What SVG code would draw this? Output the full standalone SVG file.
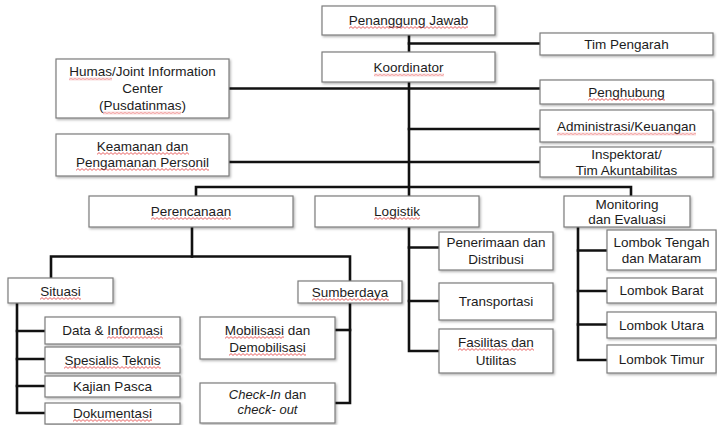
<svg xmlns="http://www.w3.org/2000/svg" width="717" height="425" viewBox="0 0 717 425">
  <style>
    .bx { fill: #ffffff; stroke: #7c7c7c; stroke-width: 1.2; filter: url(#ds); }
    .t { font-family: "Liberation Sans", Arial, sans-serif; font-size: 13.5px; fill: #1c1c1c; text-anchor: middle; }
    .it { font-style: italic; }
    .ln { fill: none; stroke: #111111; stroke-width: 2.6; stroke-linejoin: miter; stroke-linecap: square; }
    .sp { fill: url(#wave); }
  </style>
  <defs>
    <filter id="ds" x="-5%" y="-10%" width="115%" height="130%">
      <feDropShadow dx="1.2" dy="1.4" stdDeviation="0.8" flood-color="#000000" flood-opacity="0.3"/>
    </filter>
    <!-- red wavy spell-check underline -->
    <pattern id="wave" patternUnits="userSpaceOnUse" x="0" y="0" width="4" height="3">
      <path d="M0,2.4 L2,0.6 L4,2.4" fill="none" stroke="#e23a3a" stroke-width="0.8"/>
    </pattern>
  </defs>
  <rect width="717" height="425" fill="#ffffff"/>

  <!-- connectors -->
  <g id="connectors">
    <path class="ln" d="M409,35 V52"/>
    <path class="ln" d="M409,43.5 H540"/>
    <path class="ln" d="M409,82 V196"/>
    <path class="ln" d="M229,88.5 H540"/>
    <path class="ln" d="M409,129 H540"/>
    <path class="ln" d="M229,162 H540"/>
    <path class="ln" d="M196,196 V187 H631 V196"/>
    <path class="ln" d="M192,227 V256.5"/>
    <path class="ln" d="M51,278 V256.5 H350 V281"/>
    <path class="ln" d="M17,303 V413 H45"/>
    <path class="ln" d="M17,331 H45 M17,359 H45 M17,386 H45"/>
    <path class="ln" d="M350,303 V403 H335"/>
    <path class="ln" d="M350,330 H335"/>
    <path class="ln" d="M409,227 V351 H439"/>
    <path class="ln" d="M409,247.5 H439 M409,301 H439"/>
    <path class="ln" d="M578,227 V360 H607"/>
    <path class="ln" d="M578,250.5 H607 M578,291 H607 M578,324.5 H607"/>
  </g>

  <!-- nodes -->
  <g id="penanggung-jawab">
    <rect class="bx" x="322" y="6" width="173" height="29"/>
    <text class="t" x="408.5" y="25">Penanggung Jawab</text>
  </g>
  <g id="tim-pengarah">
    <rect class="bx" x="540" y="33" width="173" height="22"/>
    <text class="t" x="626.5" y="48.5">Tim Pengarah</text>
  </g>
  <g id="koordinator">
    <rect class="bx" x="322" y="52" width="173" height="30"/>
    <text class="t" x="408.5" y="72">Koordinator</text>
  </g>
  <g id="humas">
    <rect class="bx" x="56" y="59" width="173" height="59"/>
    <text class="t" x="142.5" y="76">Humas/Joint Information</text>
    <text class="t" x="142.5" y="93">Center</text>
    <text class="t" x="142.5" y="110">(Pusdatinmas)</text>
  </g>
  <g id="penghubung">
    <rect class="bx" x="540" y="80" width="173" height="24"/>
    <text class="t" x="626.5" y="96.5">Penghubung</text>
  </g>
  <g id="administrasi">
    <rect class="bx" x="540" y="110" width="173" height="32"/>
    <text class="t" x="626.5" y="131">Administrasi/Keuangan</text>
  </g>
  <g id="inspektorat">
    <rect class="bx" x="540" y="147" width="173" height="30"/>
    <text class="t" x="626.5" y="159">Inspektorat/</text>
    <text class="t" x="626.5" y="175">Tim Akuntabilitas</text>
  </g>
  <g id="keamanan">
    <rect class="bx" x="56" y="134" width="173" height="42"/>
    <text class="t" x="142.5" y="151">Keamanan dan</text>
    <text class="t" x="142.5" y="167">Pengamanan Personil</text>
  </g>
  <g id="perencanaan">
    <rect class="bx" x="89" y="196" width="204" height="31"/>
    <text class="t" x="191" y="216">Perencanaan</text>
  </g>
  <g id="logistik">
    <rect class="bx" x="315" y="196" width="164" height="31"/>
    <text class="t" x="397" y="216">Logistik</text>
  </g>
  <g id="monitoring">
    <rect class="bx" x="564" y="196" width="126" height="31"/>
    <text class="t" x="627" y="209">Monitoring</text>
    <text class="t" x="627" y="224">dan Evaluasi</text>
  </g>
  <g id="situasi">
    <rect class="bx" x="8" y="278" width="105" height="25"/>
    <text class="t" x="60.5" y="295.5">Situasi</text>
  </g>
  <g id="sumberdaya">
    <rect class="bx" x="298" y="281" width="104" height="22"/>
    <text class="t" x="350" y="296.5">Sumberdaya</text>
  </g>
  <g id="data-informasi">
    <rect class="bx" x="45" y="317" width="135" height="27"/>
    <text class="t" x="112.5" y="335">Data &amp; Informasi</text>
  </g>
  <g id="spesialis-teknis">
    <rect class="bx" x="45" y="347" width="135" height="26"/>
    <text class="t" x="112.5" y="364.5">Spesialis Teknis</text>
  </g>
  <g id="kajian-pasca">
    <rect class="bx" x="45" y="376" width="135" height="21"/>
    <text class="t" x="112.5" y="391">Kajian Pasca</text>
  </g>
  <g id="dokumentasi">
    <rect class="bx" x="45" y="403" width="135" height="21"/>
    <text class="t" x="112.5" y="418">Dokumentasi</text>
  </g>
  <g id="mobilisasi">
    <rect class="bx" x="200" y="317" width="135" height="42"/>
    <text class="t" x="267.5" y="335">Mobilisasi dan</text>
    <text class="t" x="267.5" y="352">Demobilisasi</text>
  </g>
  <g id="check-in">
    <rect class="bx" x="200" y="383" width="135" height="40"/>
    <text class="t" x="267.5" y="399" style="font-size:13px"><tspan class="it">Check-In</tspan> dan</text>
    <text class="t it" x="267.5" y="414" style="font-size:13px">check- out</text>
  </g>
  <g id="penerimaan">
    <rect class="bx" x="439" y="232" width="114" height="38"/>
    <text class="t" x="496" y="247">Penerimaan dan</text>
    <text class="t" x="496" y="264">Distribusi</text>
  </g>
  <g id="transportasi">
    <rect class="bx" x="439" y="283" width="114" height="37"/>
    <text class="t" x="496" y="306">Transportasi</text>
  </g>
  <g id="fasilitas">
    <rect class="bx" x="439" y="329" width="114" height="44"/>
    <text class="t" x="496" y="347">Fasilitas dan</text>
    <text class="t" x="496" y="365">Utilitas</text>
  </g>
  <g id="lombok-tengah">
    <rect class="bx" x="607" y="230" width="109" height="40"/>
    <text class="t" x="661.5" y="247">Lombok Tengah</text>
    <text class="t" x="661.5" y="263">dan Mataram</text>
  </g>
  <g id="lombok-barat">
    <rect class="bx" x="607" y="278" width="109" height="25"/>
    <text class="t" x="661.5" y="295">Lombok Barat</text>
  </g>
  <g id="lombok-utara">
    <rect class="bx" x="607" y="312" width="109" height="26"/>
    <text class="t" x="661.5" y="329.5">Lombok Utara</text>
  </g>
  <g id="lombok-timur">
    <rect class="bx" x="607" y="345" width="109" height="28"/>
    <text class="t" x="661.5" y="363.5">Lombok Timur</text>
  </g>

  <!-- spell-check underlines -->
  <g id="spelling">
    <rect class="sp" width="119" height="3" transform="translate(349,26)"/>
    <rect class="sp" width="70" height="3" transform="translate(374,73.5)"/>
    <rect class="sp" width="43" height="3" transform="translate(69,77.5)"/>
    <rect class="sp" width="78" height="3" transform="translate(103,111.5)"/>
    <rect class="sp" width="77" height="3" transform="translate(588,98)"/>
    <rect class="sp" width="139" height="3" transform="translate(557,132.5)"/>
    <rect class="sp" width="92" height="3" transform="translate(97,152)"/>
    <rect class="sp" width="133" height="3" transform="translate(76,168)"/>
    <rect class="sp" width="80" height="3" transform="translate(151,217)"/>
    <rect class="sp" width="46" height="3" transform="translate(374,217)"/>
    <rect class="sp" width="41" height="3" transform="translate(40,297)"/>
    <rect class="sp" width="77" height="3" transform="translate(312,298)"/>
    <rect class="sp" width="56" height="3" transform="translate(107,336)"/>
    <rect class="sp" width="97" height="3" transform="translate(64,366)"/>
    <rect class="sp" width="79" height="3" transform="translate(73,419)"/>
    <rect class="sp" width="59" height="3" transform="translate(225,336)"/>
    <rect class="sp" width="77" height="3" transform="translate(229,353)"/>
    <rect class="sp" width="76" height="3" transform="translate(458,348)"/>
  </g>
</svg>
